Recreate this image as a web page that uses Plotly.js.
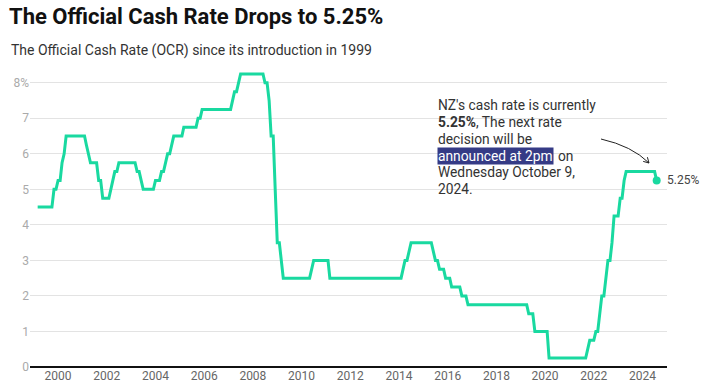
<!DOCTYPE html>
<html>
<head>
<meta charset="utf-8">
<script src="https://cdn.plot.ly/plotly-3.0.1.min.js"></script>
<style>
html,body{margin:0;padding:0;background:#fff;}
#chart{width:712px;height:391px;}
</style>
</head>
<body>
<div id="chart"></div>
<script>
// Official Cash Rate breakpoints (month, rate %)
var months = ["1999-03-01","1999-10-01","1999-11-01","1999-12-01","2000-01-01","2000-02-01","2000-03-01","2000-04-01","2000-05-01",
"2001-02-01","2001-03-01","2001-04-01","2001-05-01","2001-08-01","2001-09-01","2001-10-01","2001-11-01",
"2002-02-01","2002-03-01","2002-04-01","2002-05-01","2002-06-01","2002-07-01",
"2003-03-01","2003-04-01","2003-05-01","2003-06-01","2003-07-01","2003-12-01",
"2004-01-01","2004-03-01","2004-04-01","2004-05-01","2004-06-01","2004-07-01","2004-08-01","2004-09-01","2004-10-01",
"2005-02-01","2005-03-01","2005-09-01","2005-10-01","2005-11-01","2005-12-01",
"2007-02-01","2007-03-01","2007-04-01","2007-05-01","2007-06-01","2007-07-01",
"2008-06-01","2008-07-01","2008-08-01","2008-09-01","2008-10-01","2008-11-01","2008-12-01",
"2009-01-01","2009-02-01","2009-03-01","2009-04-01",
"2010-05-01","2010-06-01","2010-07-01","2011-02-01","2011-03-01",
"2014-02-01","2014-03-01","2014-04-01","2014-05-01","2014-06-01","2014-07-01",
"2015-05-01","2015-06-01","2015-07-01","2015-08-01","2015-09-01","2015-11-01","2015-12-01",
"2016-02-01","2016-03-01","2016-07-01","2016-08-01","2016-10-01","2016-11-01",
"2019-04-01","2019-05-01","2019-07-01","2019-08-01","2020-02-01","2020-03-01",
"2021-09-01","2021-10-01","2021-11-01","2022-01-01","2022-02-01","2022-03-01","2022-04-01","2022-05-01","2022-06-01",
"2022-07-01","2022-08-01","2022-09-01","2022-10-01","2022-11-01","2023-01-01","2023-02-01","2023-03-01","2023-04-01","2023-05-01",
"2024-07-01","2024-08-01"];
var rates = [4.5,4.5,5.0,5.0,5.25,5.25,5.75,6.0,6.5,
6.5,6.25,6.0,5.75,5.75,5.25,5.25,4.75,
4.75,5.0,5.25,5.5,5.5,5.75,
5.75,5.5,5.5,5.25,5.0,5.0,
5.25,5.25,5.5,5.5,5.75,6.0,6.0,6.25,6.5,
6.5,6.75,6.75,7.0,7.0,7.25,
7.25,7.5,7.75,7.75,8.0,8.25,
8.25,8.0,8.0,7.5,6.5,6.5,5.0,
3.5,3.5,3.0,2.5,
2.5,2.75,3.0,3.0,2.5,
2.5,2.75,3.0,3.0,3.25,3.5,
3.5,3.25,3.0,3.0,2.75,2.75,2.5,
2.5,2.25,2.25,2.0,2.0,1.75,
1.75,1.5,1.5,1.0,1.0,0.25,
0.25,0.5,0.75,0.75,1.0,1.0,1.5,2.0,2.0,
2.5,3.0,3.0,3.5,4.25,4.25,4.75,4.75,5.25,5.5,
5.5,5.25];
var yTickVals = [0,1,2,3,4,5,6,7,8];
var yTickText = ["0","1","2","3","4","5","6","7","8%"];
var xTickVals = ["2000-01-01","2002-01-01","2004-01-01","2006-01-01","2008-01-01","2010-01-01","2012-01-01","2014-01-01","2016-01-01","2018-01-01","2020-01-01","2022-01-01","2024-01-01"];
var xTickText = ["2000","2002","2004","2006","2008","2010","2012","2014","2016","2018","2020","2022","2024"];
var noteLines = ["NZ's cash rate is currently", "<b>5.25%</b>, The next rate", "decision will be",
                 "", "Wednesday October 9,", "2024."];
var highlightText = "announced at 2pm";
var highlightTail = "on";

var lastX = months[months.length-1];
var lastY = rates[rates.length-1];

var L = 30, R = 667, T = 65, B = 367;
function px(x){ return (x - L) / (R - L); }
function py(y){ return (B - y) / (B - T); }

var green = "#19d9a0";

var traces = [
  {x: months, y: rates, type: "scatter", mode: "lines",
   line: {color: green, width: 3, shape: "linear"}, hoverinfo: "x+y"},
  {x: [lastX], y: [lastY], type: "scatter", mode: "markers",
   marker: {color: green, size: 8}, hoverinfo: "x+y"}
];

var ax0 = 601, ay0 = 139, cx = 632, cy = 146, ax1 = 649, ay1 = 163;

var annotations = [
  {xref: "paper", yref: "paper", x: px(9), y: py(50), xanchor: "left", yanchor: "middle",
   text: "The Official Cash Rate (OCR) since its introduction in 1999", showarrow: false,
   font: {size: 14, color: "#333"}}
];
var lineY = [105, 122, 138.8, 155.5, 172, 188.5];
noteLines.forEach(function(t, i){
  if (!t) return;
  annotations.push({xref: "paper", yref: "paper", x: px(437), y: py(lineY[i]), xanchor: "left", yanchor: "middle",
    align: "left", borderpad: 0, showarrow: false, text: t, font: {size: 13.8, color: "#333"}});
});
annotations.push({xref: "paper", yref: "paper", x: px(437), y: py(lineY[3]), xanchor: "left", yanchor: "middle",
  align: "left", borderpad: 0, showarrow: false, bgcolor: "#353b86",
  text: highlightText, font: {size: 13.8, color: "#fff"}});
annotations.push({xref: "paper", yref: "paper", x: px(557), y: py(lineY[3]), xanchor: "left", yanchor: "middle",
  align: "left", borderpad: 0, showarrow: false,
  text: highlightTail, font: {size: 13.8, color: "#333"}});
annotations.push({x: lastX, y: lastY, xref: "x", yref: "y", xanchor: "left", yanchor: "middle", xshift: 8,
  text: "5.25%", showarrow: false, font: {size: 12, color: "#444"}});

var layout = {
  width: 712, height: 391,
  margin: {l: L, r: 712 - R, t: T, b: 391 - B},
  paper_bgcolor: "#fff", plot_bgcolor: "#fff",
  font: {family: "Roboto, sans-serif", color: "#333"},
  showlegend: false,
  title: {text: "<b>The Official Cash Rate Drops to 5.25%</b>", x: 0, xref: "container", xanchor: "left",
          y: 1, yref: "container", yanchor: "top", pad: {t: 9, l: 9},
          font: {family: "Roboto, sans-serif", size: 22, color: "#111"}},
  xaxis: {type: "date", range: ["1998-11-06", "2025-01-03"],
          tickvals: xTickVals, ticktext: xTickText, ticks: "", showgrid: false,
          zeroline: false, showline: false,
          tickfont: {size: 12, color: "#666"}, fixedrange: true},
  yaxis: {range: [0, 8.5], tickvals: yTickVals, ticktext: yTickText, ticks: "",
          showgrid: true, gridcolor: "#e3e3e3", gridwidth: 1,
          zeroline: true, zerolinecolor: "#111", zerolinewidth: 2,
          showline: false, tickfont: {size: 12, color: "#aaa"}, fixedrange: true},
  annotations: annotations,
  shapes: [
    {type: "path", xref: "paper", yref: "paper",
     path: "M " + px(ax0) + "," + py(ay0) + " Q " + px(cx) + "," + py(cy) + " " + px(ax1) + "," + py(ay1),
     line: {color: "#222", width: 1}},
    {type: "path", xref: "paper", yref: "paper",
     path: "M " + px(647.4) + "," + py(157.2) + " L " + px(ax1) + "," + py(ay1) + " L " + px(643.2) + "," + py(161.4),
     line: {color: "#222", width: 1}}
  ]
};

Plotly.newPlot("chart", traces, layout, {displayModeBar: false, staticPlot: true});
</script>
</body>
</html>
